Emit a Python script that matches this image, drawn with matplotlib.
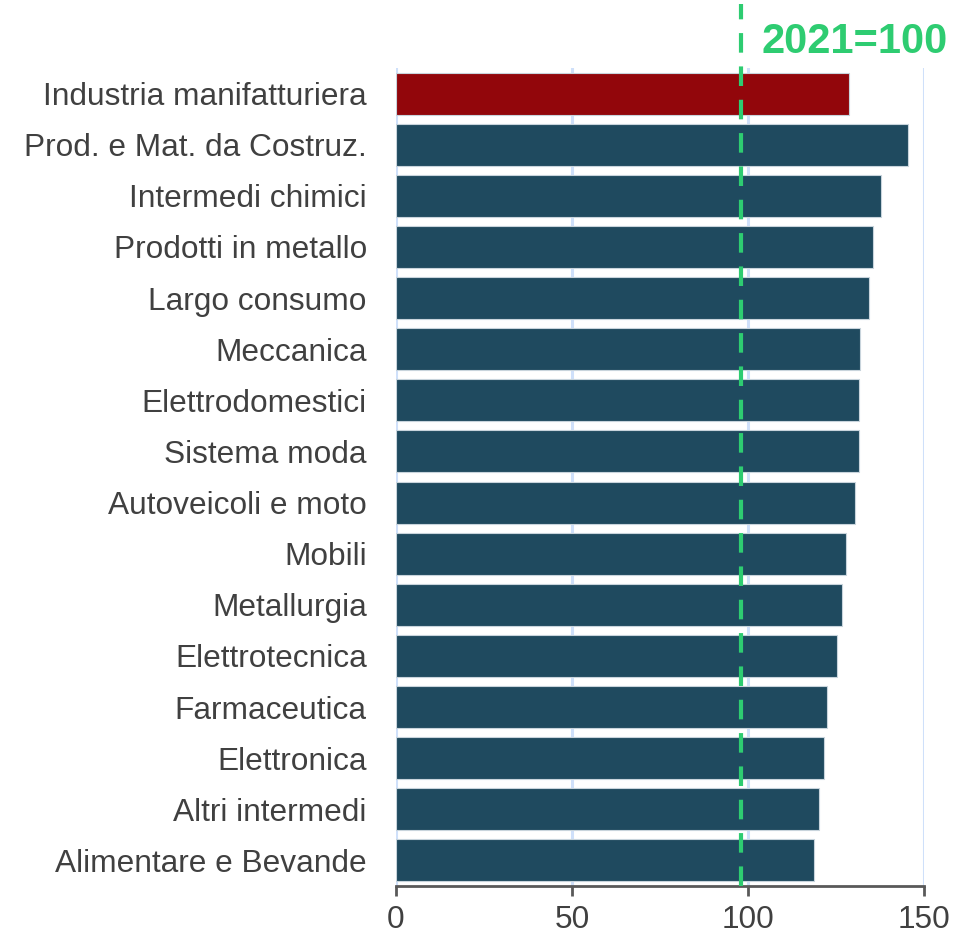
import matplotlib
matplotlib.use("Agg")
import matplotlib.pyplot as plt

categories = ["Industria manifatturiera", "Prod. e Mat. da Costruz.", "Intermedi chimici",
              "Prodotti in metallo", "Largo consumo", "Meccanica", "Elettrodomestici",
              "Sistema moda", "Autoveicoli e moto", "Mobili", "Metallurgia",
              "Elettrotecnica", "Farmaceutica", "Elettronica", "Altri intermedi",
              "Alimentare e Bevande"]
values = [128.6, 145.4, 137.8, 135.6, 134.5, 131.9, 131.6, 131.6, 130.5, 127.9,
          126.8, 125.4, 122.5, 121.7, 120.3, 118.8]
highlight = "Industria manifatturiera"
ref_line = 98
ref_label = "2021=100"
xticks = [0, 50, 100, 150]

plt.rcParams['font.family'] = ['Liberation Sans', 'DejaVu Sans']

fig = plt.figure(figsize=(9.74, 9.38), dpi=100)
ax = fig.add_axes([396/974, 1 - 886/938, (924-396)/974, (886-68)/938])

colors = ["#92060B" if c == highlight else "#1F4A5F" for c in categories]
y = list(range(len(categories)))
ax.barh(y, values, height=0.82, color=colors, edgecolor="#C8D4DC", linewidth=0.8, zorder=3)
ax.set_yticks(y)
ax.set_yticklabels(categories, fontsize=22.8, color="#404040")
ax.set_ylim(len(categories) - 0.5, -0.5)
ax.set_xlim(0, 150)
ax.set_xticks(xticks)
ax.set_xticklabels([str(t) for t in xticks], fontsize=22.8, color="#404040")
ax.grid(axis='x', color="#CFE0FA", linewidth=2.2, zorder=0)
ax.set_axisbelow(True)
for s in ['top', 'right', 'left']:
    ax.spines[s].set_visible(False)
ax.spines['bottom'].set_color("#595959")
ax.spines['bottom'].set_linewidth(2)
ax.tick_params(axis='y', length=0, pad=21)
ax.tick_params(axis='x', length=7, width=2, color="#595959", pad=7)

ax.plot([ref_line, ref_line], [len(categories) - 0.5, -1.75], color="#2ECC71",
        linestyle=(0, (4.7, 3.3)), linewidth=3, zorder=5, clip_on=False)
ax.text(103.8, -1.0, ref_label, color="#2ECC71", fontsize=30, fontweight='bold',
        ha='left', va='center', clip_on=False)

fig.savefig("out.png", dpi=100)
